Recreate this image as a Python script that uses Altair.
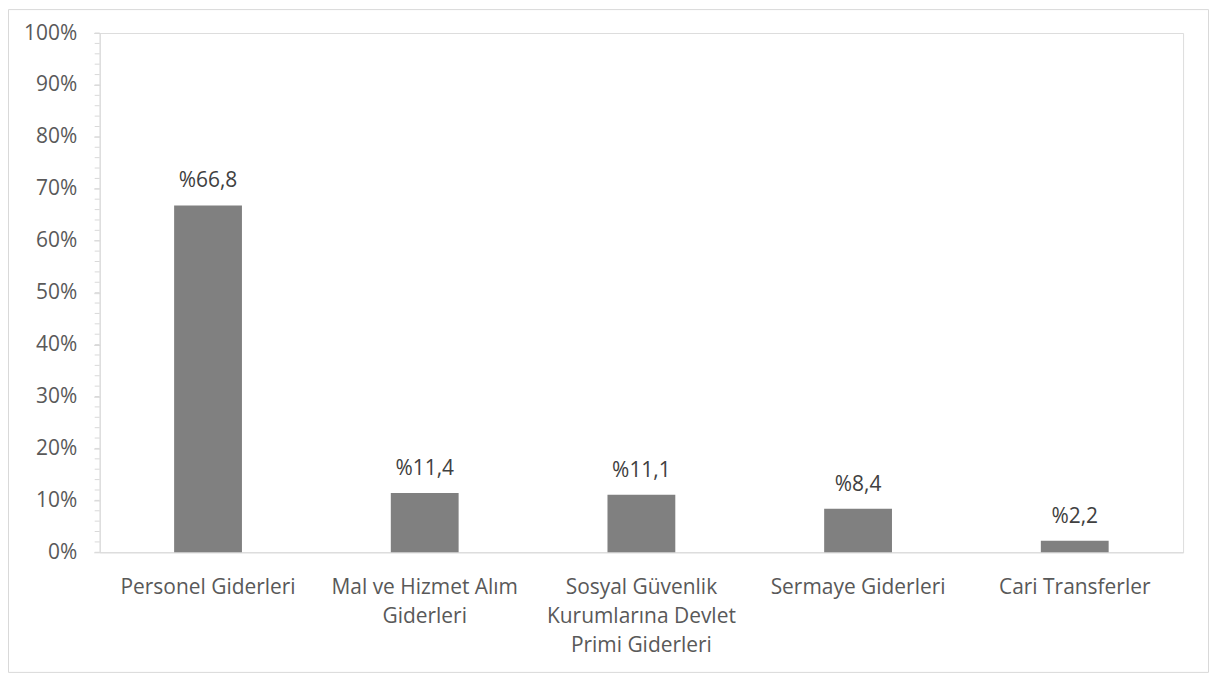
import altair as alt
import pandas as pd

categories = [
    "Personel Giderleri",
    "Mal ve Hizmet Alım\nGiderleri",
    "Sosyal Güvenlik\nKurumlarına Devlet\nPrimi Giderleri",
    "Sermaye Giderleri",
    "Cari Transferler",
]
shares = [0.668, 0.114, 0.111, 0.084, 0.022]

df = pd.DataFrame({"cat": categories, "value": shares})

FONT = "Open Sans"
FS = 21
AXIS_GRAY = "#d9d9d9"
LABEL_COL = "#595959"

yscale = alt.Scale(domain=[0, 1], nice=False)
xscale = alt.Scale(paddingInner=0.687, paddingOuter=0.3435)

base = alt.Chart(df)

border = alt.Chart(pd.DataFrame({"a": [0]})).mark_rect(
    fill=None, stroke=AXIS_GRAY, strokeWidth=1
).encode(
    x=alt.value(-91.5), x2=alt.value(1112.5),
    y=alt.value(-23.5), y2=alt.value(641.5),
)

bars = base.mark_bar(color="#808080").encode(
    x=alt.X("cat:N", sort=None, scale=xscale, title=None,
            axis=alt.Axis(labelAngle=0, ticks=False, domainColor=AXIS_GRAY,
                          labelColor=LABEL_COL, labelFontSize=FS, labelFont=FONT,
                          labelPadding=24, labelLineHeight=29.5,
                          labelExpr="split(datum.label, '\\n')",
                          labelLimit=400)),
    y=alt.Y("value:Q", scale=yscale, title=None,
            axis=alt.Axis(format="%", values=[i / 10 for i in range(11)],
                          grid=False, domainColor=AXIS_GRAY, tickColor=AXIS_GRAY,
                          tickSize=6, labelColor=LABEL_COL, labelFontSize=FS,
                          labelFont=FONT, labelPadding=17)),
)

labels = base.transform_calculate(
    lbl="'%' + replace(format(datum.value * 100, '.1f'), '.', ',')"
).mark_text(baseline="alphabetic", dy=-18, fontSize=FS, font=FONT, color="#404040").encode(
    x=alt.X("cat:N", sort=None, scale=xscale),
    y=alt.Y("value:Q", scale=yscale),
    text="lbl:N",
)

minor = alt.Chart(alt.sequence(0, 1.001, 0.02, as_="v")).mark_rule(
    color=AXIS_GRAY, strokeWidth=1
).encode(
    y=alt.Y("v:Q", scale=yscale),
    x=alt.value(-5), x2=alt.value(0),
)

chart = alt.layer(border, bars, minor, labels).properties(
    width=1087, height=521,
    padding={"left": 92, "top": 24, "right": 26, "bottom": 122},
    autosize=alt.AutoSizeParams(type="none"),
).configure_view(stroke=None).configure(background="white")

chart.save("out.html", embed_options={"renderer": "svg", "actions": False})
